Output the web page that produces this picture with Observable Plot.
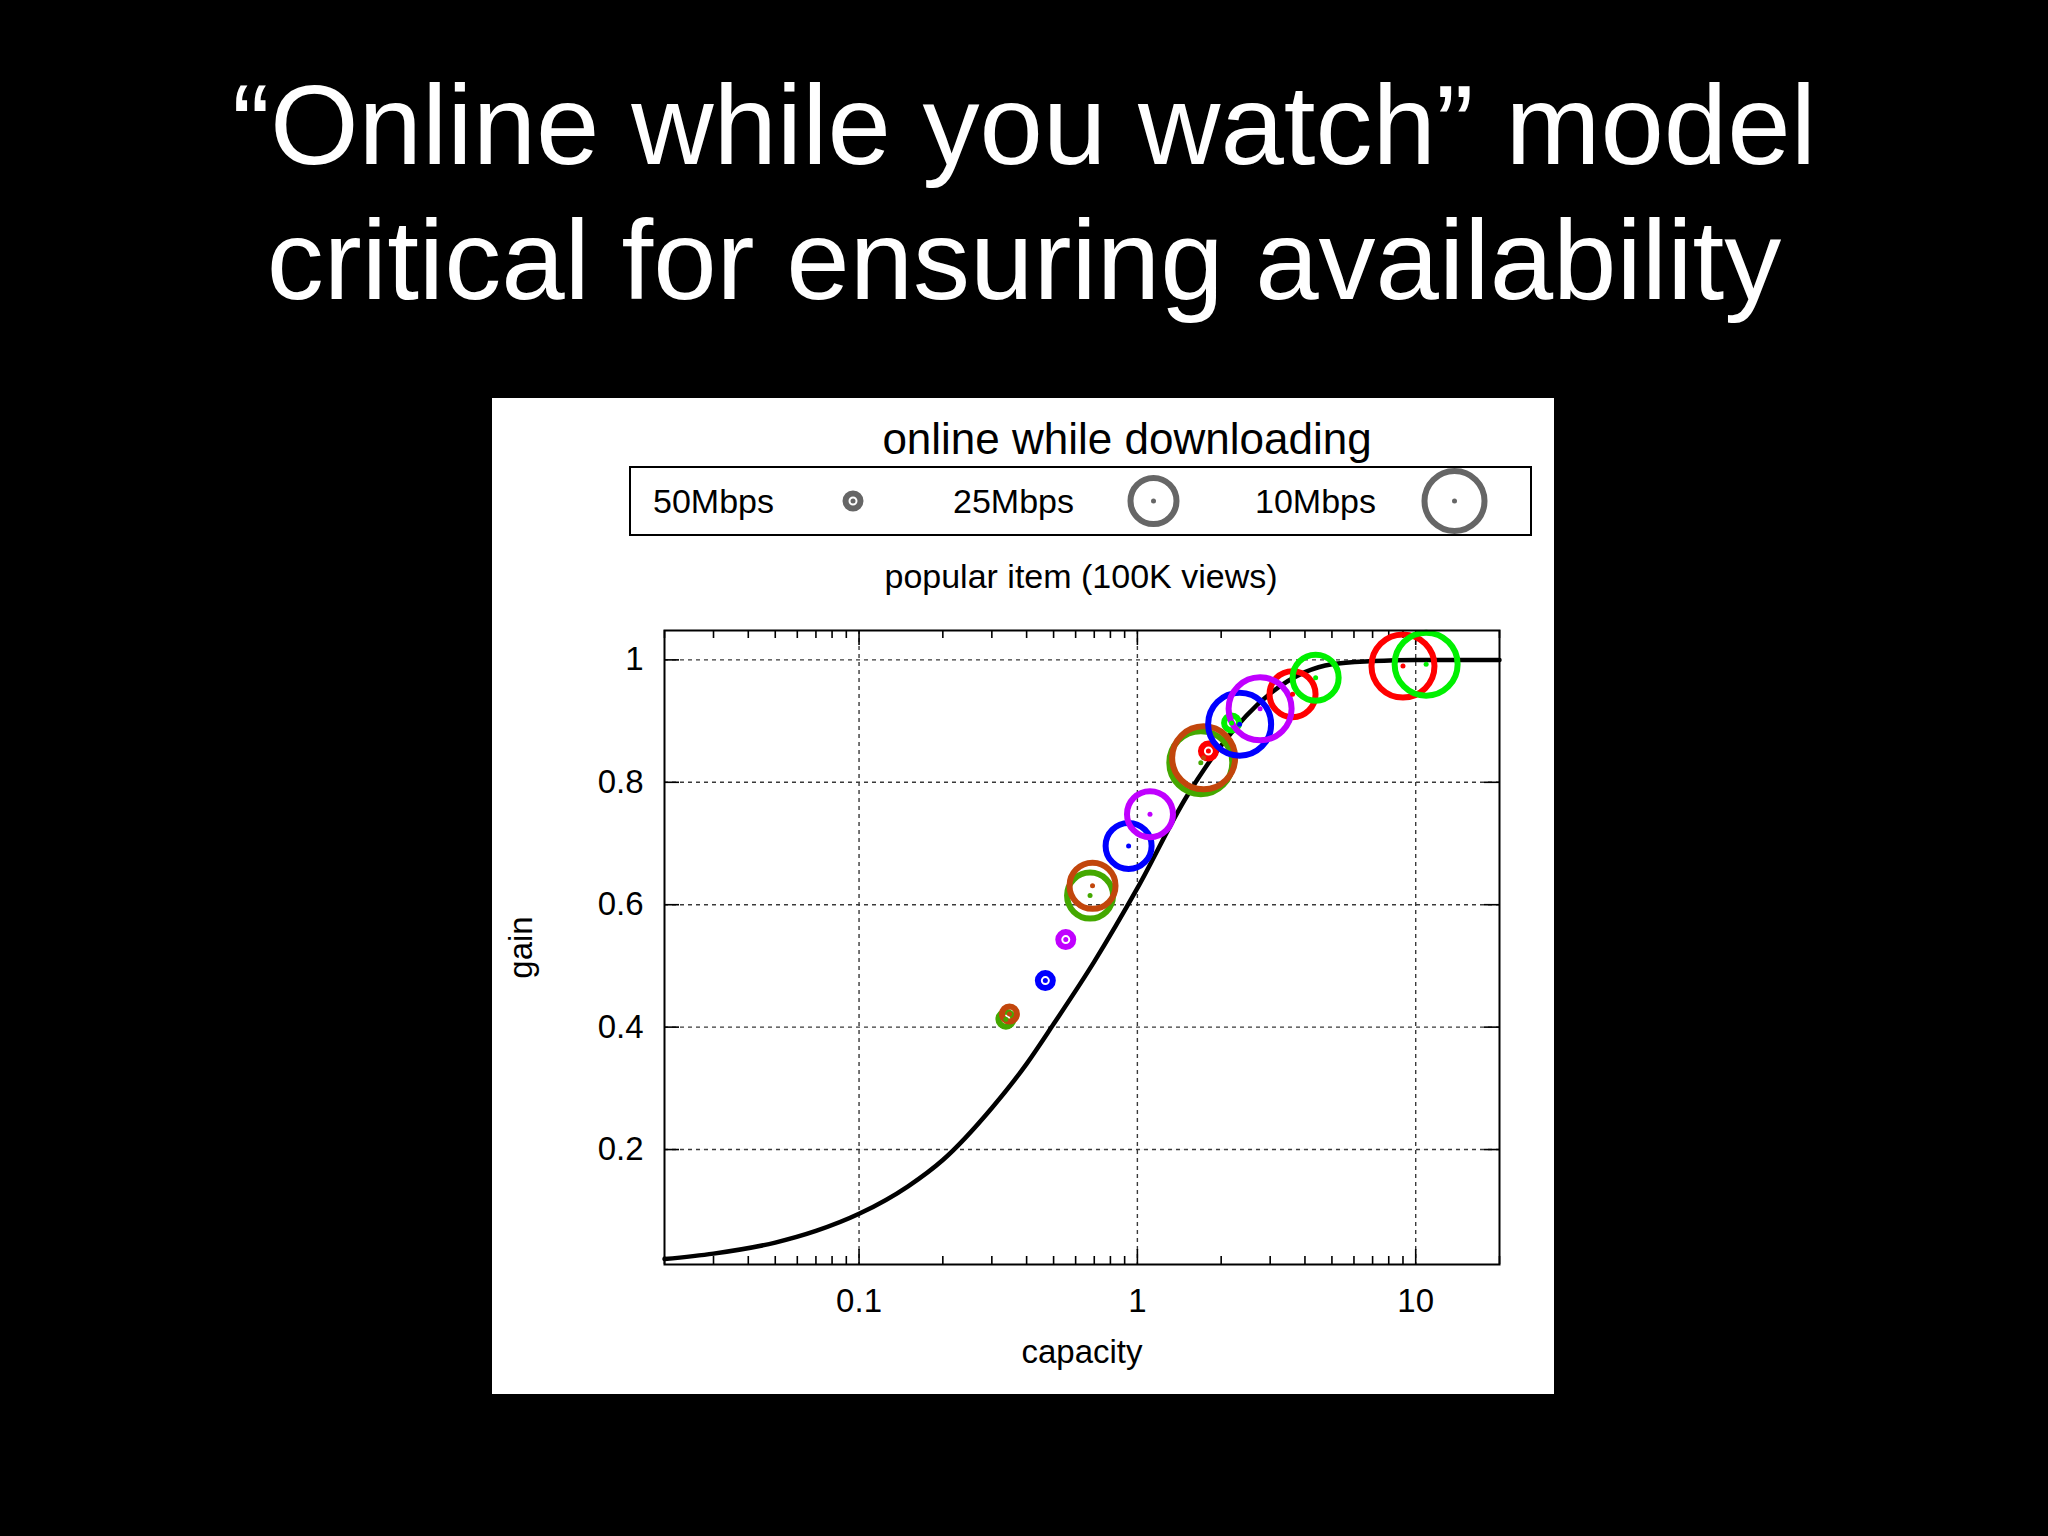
<!DOCTYPE html>
<html>
<head>
<meta charset="utf-8">
<script src="https://cdn.jsdelivr.net/npm/d3@7"></script>
<script src="https://cdn.jsdelivr.net/npm/@observablehq/plot@0.6"></script>
<style>
  html, body { margin: 0; padding: 0; background: #000; }
  body { width: 2048px; height: 1536px; position: relative; overflow: hidden;
         font-family: "Liberation Sans", Arial, Helvetica, sans-serif; }
  #title { position: absolute; left: 0; top: 57px; width: 2048px; text-align: center;
           color: #fff; font-size: 114px; line-height: 135px; white-space: nowrap; }
  #panel { position: absolute; left: 492px; top: 398px; width: 1062px; height: 996px; background: #fff; }
  .ptxt { position: absolute; left: 0; width: 100%; text-align: center; line-height: 1; color: #000; white-space: nowrap; }
  #legend { position: absolute; left: 137px; top: 68px; width: 903px; height: 70px; box-sizing: border-box;
            border: 2px solid #000; }
  .lab { position: absolute; font-size: 34px; line-height: 1; top: 16px; color: #000; }
  #chart { position: absolute; left: 0; top: 202px; }
</style>
</head>
<body>
<div id="title">“Online while you watch” model<br>critical for ensuring availability</div>
<div id="panel">
  <div class="ptxt" style="font-size:44px; top:19px; left:318px; width:634px;">online while downloading</div>
  <div id="legend">
    <span class="lab" style="left:22px">50Mbps</span>
    <span class="lab" style="left:322px">25Mbps</span>
    <span class="lab" style="left:624px">10Mbps</span>
    <svg id="legsym" width="899" height="66" style="position:absolute;left:0;top:0"></svg>
  </div>
  <div class="ptxt" style="font-size:34px; top:161px; left:272px; width:634px;">popular item (100K views)</div>
  <div id="chart"></div>
</div>
<script>
// ---- data ----
const seriesNames = ["dark green", "brown", "blue", "purple", "red", "lime"];
const bandwidthLabels = ["50Mbps", "25Mbps", "10Mbps"];
const bandwidthMbps = [50, 25, 10];

// scatter points (one row per series × bandwidth)
const pointSeries = [
  "dark green", "dark green", "dark green",
  "brown", "brown", "brown",
  "blue", "blue", "blue",
  "purple", "purple", "purple",
  "red", "red", "red",
  "lime", "lime", "lime"
];
const pointBandwidth = [50, 25, 10, 50, 25, 10, 50, 25, 10, 50, 25, 10, 50, 25, 10, 50, 25, 10];
const pointCapacity = [0.337, 0.676, 1.69, 0.347, 0.69, 1.73, 0.467, 0.93, 2.33, 0.553, 1.11, 2.76, 1.80, 3.61, 9.0, 2.18, 4.37, 10.9];
const pointGain = [0.413, 0.615, 0.832, 0.4215, 0.631, 0.840, 0.476, 0.696, 0.895, 0.543, 0.748, 0.920, 0.851, 0.944, 0.990, 0.897, 0.971, 0.993];

// model curve
const curveCapacity = [0.02, 0.03, 0.05, 0.07, 0.1, 0.15, 0.2, 0.3, 0.4, 0.5, 0.7, 1, 1.5, 2, 3, 4, 5, 7, 10, 20];
const curveGain = [0.021, 0.030, 0.048, 0.067, 0.095, 0.140, 0.183, 0.268, 0.340, 0.405, 0.507, 0.627, 0.776, 0.860, 0.945, 0.980, 0.993, 0.998, 1.0, 1.0];

// ticks
const xMajor = [0.1, 1, 10];
const xMinor = [0.02, 0.03, 0.04, 0.05, 0.06, 0.07, 0.08, 0.09, 0.2, 0.3, 0.4, 0.5, 0.6, 0.7, 0.8, 0.9, 2, 3, 4, 5, 6, 7, 8, 9, 20];
const yMajor = [0.2, 0.4, 0.6, 0.8, 1];

// ---- build tables ----
const points = pointSeries.map((s, i) => ({series: s, bw: pointBandwidth[i], capacity: pointCapacity[i], gain: pointGain[i]}));
const curve = curveCapacity.map((c, i) => ({capacity: c, gain: curveGain[i]}));

const W = 1062, H = 794, ML = 172, MR = 55, MT = 30, MB = 130;
const FW = W - ML - MR, FH = H - MT - MB;
const gridStyle = {stroke: "#3a3a3a", strokeOpacity: 1, strokeWidth: 1.4, strokeDasharray: "4,4"};
const tickStyle = {stroke: "#000", strokeWidth: 1.6};

const chart = Plot.plot({
  width: W, height: H,
  marginLeft: ML, marginRight: MR, marginTop: MT, marginBottom: MB,
  x: {type: "log", domain: [0.02, 20]},
  y: {domain: [0.0122, 1.048]},
  r: {type: "linear", domain: [10, 25, 50], range: [31.5, 23, 7.5]},
  color: {domain: seriesNames, range: ["#44a800", "#c2460c", "#0000ff", "#c000ff", "#ff0000", "#00f000"]},
  style: {background: "#fff", color: "#000", fontFamily: "'Liberation Sans', Arial, Helvetica, sans-serif", fontSize: "33px"},
  marks: [
    Plot.gridX(xMajor, gridStyle),
    Plot.gridY(yMajor, gridStyle),
    // inward ticks on all four sides
    Plot.tickX(xMinor, {x: d => d, insetTop: FH - 8, ...tickStyle}),
    Plot.tickX(xMajor, {x: d => d, insetTop: FH - 15, ...tickStyle}),
    Plot.tickX(xMinor, {x: d => d, insetBottom: FH - 8, ...tickStyle}),
    Plot.tickX(xMajor, {x: d => d, insetBottom: FH - 15, ...tickStyle}),
    Plot.tickY(yMajor, {y: d => d, insetRight: FW - 15, ...tickStyle}),
    Plot.tickY(yMajor, {y: d => d, insetLeft: FW - 15, ...tickStyle}),
    Plot.axisX(xMajor, {tickSize: 0, tickPadding: 24, tickFormat: d => String(d), fontSize: 33,
      label: "capacity", labelAnchor: "center", labelArrow: "none", labelOffset: 98}),
    Plot.axisY(yMajor, {tickSize: 0, tickPadding: 21, tickFormat: d => String(d), fontSize: 33,
      label: "gain", labelAnchor: "center", labelArrow: "none", labelOffset: 156}),
    Plot.line(curve, {x: "capacity", y: "gain", stroke: "#000", strokeWidth: 4.5, curve: "monotone-x"}),
    Plot.dot(points, {x: "capacity", y: "gain", r: "bw", stroke: "series", strokeWidth: 6}),
    Plot.dot(points, {x: "capacity", y: "gain", r: 2.5, fill: "series"}),
    Plot.frame({stroke: "#000", strokeWidth: 2})
  ]
});
document.getElementById("chart").appendChild(chart);

// legend symbols (size key)
const leg = d3.select("#legsym");
const legX = [222, 522.5, 823.5];
const legR = [7.5, 23, 30];
bandwidthMbps.forEach((bw, i) => {
  leg.append("circle").attr("cx", legX[i]).attr("cy", 33).attr("r", legR[i])
    .attr("fill", "none").attr("stroke", "#666").attr("stroke-width", 6);
  leg.append("circle").attr("cx", legX[i]).attr("cy", 33).attr("r", 2.5).attr("fill", "#666");
});
</script>
</body>
</html>
